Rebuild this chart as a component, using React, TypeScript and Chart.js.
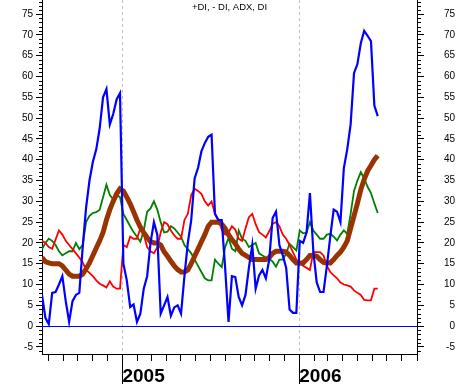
import React, { useEffect, useRef } from "react";
import { Chart, registerables } from "chart.js";

Chart.register(...registerables);

// ---- axis / calendar settings ----
const FIRST_WEEK = "2004-07-19"; // date of first weekly observation
const AXIS_START = "2004-07-19";
const AXIS_END = "2006-09-01";
const YEAR_LABELS = ["2005", "2006"];
const Y_TICKS = [-5, 0, 5, 10, 15, 20, 25, 30, 35, 40, 45, 50, 55, 60, 65, 70, 75];
const Y_MIN = -6.7;
const Y_MAX = 78.4;
const TITLE = "+DI, - DI, ADX, DI";

// ---- weekly series ----
const di = [
  7.5, 2, 0.5, 8, 8.2, 10, 12, 6, 1, 6,
  7.5, 8, 19, 28.5, 35, 39.5, 42.5, 47.5, 55, 57,
  48.5, 51, 54.5, 56, 15, 11, 4.6, 5.2, 1, 3,
  9, 12, 20, 25, 22, 3, 5, 7, 2.5, 4.5,
  5, 3, 12, 20, 25.5, 35.5, 38, 42, 44, 45.5,
  46, 27, 25.5, 25.5, 14, 1, 12, 11.8, 7, 5,
  7.5, 14, 19.5, 9, 12.2, 13.5, 11.5, 16, 26, 27.5,
  19.5, 17, 14, 4, 3.2, 3.2, 20.5, 20, 22.5, 32,
  18, 10.5, 8.2, 8.2, 14.5, 21.5, 28, 27.5, 25, 38,
  42.5, 48.5, 60.8, 63, 68, 71, 69.8, 68.5, 53, 50.5,
];

const adx = [
  16.5, 15.5, 15.2, 15, 15, 15, 14.5, 13.5, 12.5, 12,
  12, 12, 12.5, 13.8, 15.2, 17, 18.8, 20.5, 22.5, 25.5,
  28, 30, 31.8, 33, 32.5, 31, 29.4, 27.5, 25.5, 23.8,
  22.5, 21.3, 20.3, 20, 20, 19.5, 17.9, 16.8, 15.6, 14.5,
  13.6, 13, 13, 13.5, 15, 16.8, 18.5, 20.3, 22, 24,
  25, 25, 25, 24.5, 23.5, 22, 20.8, 19.8, 18.5, 17.5,
  17, 16.5, 16, 16, 16, 16, 16, 16.5, 17.5, 18,
  18, 18, 17.8, 17, 16, 15.2, 15.2, 15.2, 16, 17,
  17, 16.8, 16, 15.3, 15.2, 15.2, 16, 17, 17.8, 19,
  20.5, 23.5, 26.5, 29.5, 32.8, 35.3, 37.3, 38.6, 40, 41,
];

const diMinus = [
  20.5, 20, 19, 18.6, 20.8, 23, 22, 20.5, 19.5, 18.5,
  17.5, 16.5, 15.3, 13.5, 12.8, 12, 11, 10.2, 9.8, 9.3,
  10.8, 9.5, 9, 9, 19.5, 19, 21.5, 21, 21, 23.5,
  22, 19, 18, 17.5, 19, 22.5, 25, 24.5, 23, 21.8,
  21, 21, 25.5, 27, 31.5, 33, 32.5, 31.8, 30, 29,
  30, 27, 25.5, 23.2, 22, 22.5, 24, 23.2, 21, 20.5,
  23.5, 26.2, 27, 24.5, 22.6, 22, 21.3, 22.8, 24.6, 25,
  24, 22, 21, 19.5, 17.8, 16, 15, 14.5, 14, 13.5,
  17.8, 17.8, 17.8, 17, 14.5, 13, 12.2, 11.5, 10.5, 10,
  9.8, 9.5, 8.6, 8, 7.5, 6.3, 6.2, 6.2, 9, 9,
];

const diPlus = [
  18.5, 20, 21, 20.5, 19.5, 18, 17, 17.5, 18, 18,
  20, 18.5, 19.5, 25, 26.5, 27.2, 27.4, 28, 31, 34,
  31.5, 30.5, 31.5, 31, 27, 25.5, 24, 22.6, 21.5, 20.3,
  23, 27.5, 28.3, 30, 28, 25, 22.5, 22.7, 24, 23.5,
  22.5, 21.5, 19.5, 18.5, 17.5, 16, 14.5, 13, 11.5, 11,
  11, 16, 15, 14.2, 19, 21.2, 18.6, 18, 23, 21,
  20.5, 19, 19.5, 20, 17.5, 17, 16.5, 16.2, 15.5, 14.3,
  16, 16, 17.5, 19.8, 19, 18.2, 23, 22.3, 22.5, 25,
  23, 22, 21, 21, 22, 22.2, 21.5, 20.6, 22, 23,
  22.2, 27, 32.5, 35, 37, 35.5, 33.5, 32, 29.5, 27.2,
];

// ---- helpers ----
const BASE = Date.UTC(2005, 0, 1);
const dayOf = (s: string) => (Date.parse(s) - BASE) / 86400000;
const X_MIN = dayOf(AXIS_START);
const X_MAX = dayOf(AXIS_END);
const firstDay = dayOf(FIRST_WEEK);
const weekDays = di.map((_, i) => firstDay + 7 * i);

const monthTicks: number[] = [];
for (let yr = 2004; yr <= 2006; yr++) {
  for (let m = 0; m < 12; m++) {
    const d = (Date.UTC(yr, m, 1) - BASE) / 86400000;
    if (d >= X_MIN && d <= X_MAX) monthTicks.push(d);
  }
}
const yearByDay = new Map<number, string>();
YEAR_LABELS.forEach((y) => yearByDay.set(dayOf(`${y}-01-01`), y));

const toPts = (arr: number[]) => arr.map((v, i) => ({ x: weekDays[i], y: v }));

const FONT = "'Liberation Sans', Arial, sans-serif";

const decor = {
  id: "decor",
  beforeDatasetsDraw(chart: any) {
    const { ctx, chartArea, scales } = chart;
    const xs = scales.x;
    const ys = scales.y;
    ctx.save();
    ctx.strokeStyle = "#c0c0c0";
    ctx.lineWidth = 1;
    ctx.setLineDash([3, 3]);
    YEAR_LABELS.forEach((y) => {
      const px = Math.round(xs.getPixelForValue(dayOf(`${y}-01-01`))) + 0.5;
      ctx.beginPath();
      ctx.moveTo(px, chartArea.top);
      ctx.lineTo(px, chartArea.bottom);
      ctx.stroke();
    });
    ctx.setLineDash([]);
    const zy = Math.round(ys.getPixelForValue(0)) + 0.5;
    ctx.strokeStyle = "#0000ff";
    ctx.lineWidth = 1.2;
    ctx.beginPath();
    ctx.moveTo(chartArea.left, zy);
    ctx.lineTo(chartArea.right, zy);
    ctx.stroke();
    ctx.restore();
  },
  afterDraw(chart: any) {
    const { ctx, chartArea, scales } = chart;
    const xs = scales.x;
    const ys = scales.y;
    ctx.save();
    ctx.strokeStyle = "#000";
    ctx.lineWidth = 1;
    // minor ticks every 1 unit
    for (let v = Math.ceil(Y_MIN); v <= Math.floor(Y_MAX); v++) {
      if (v % 5 === 0) continue;
      const py = Math.round(ys.getPixelForValue(v)) + 0.5;
      ctx.beginPath();
      ctx.moveTo(chartArea.left - 3, py);
      ctx.lineTo(chartArea.left, py);
      ctx.moveTo(chartArea.right, py);
      ctx.lineTo(chartArea.right + 4, py);
      ctx.stroke();
    }
    // long year ticks
    YEAR_LABELS.forEach((y) => {
      const px = Math.round(xs.getPixelForValue(dayOf(`${y}-01-01`))) + 0.5;
      ctx.beginPath();
      ctx.moveTo(px, chartArea.bottom);
      ctx.lineTo(px, chart.height);
      ctx.stroke();
    });
    // title
    ctx.fillStyle = "#000";
    ctx.font = `9.5px ${FONT}`;
    ctx.textAlign = "center";
    ctx.textBaseline = "top";
    ctx.fillText(TITLE, (chartArea.left + chartArea.right) / 2, 3);
    ctx.restore();
  },
};

function yAxis(position: "left" | "right", width: number) {
  return {
    type: "linear" as const,
    position,
    min: Y_MIN,
    max: Y_MAX,
    afterBuildTicks: (s: any) => {
      s.ticks = Y_TICKS.map((v) => ({ value: v }));
    },
    afterFit: (s: any) => {
      s.width = width;
      s.paddingTop = 0;
      s.paddingBottom = 0;
    },
    grid: { drawOnChartArea: false, drawTicks: true, tickLength: position === "left" ? 6 : 7, color: "#000" },
    border: { display: true, color: "#000", width: 1 },
    ticks: {
      padding: 3,
      color: "#000",
      crossAlign: position === "left" ? ("near" as const) : ("far" as const),
      font: { family: FONT, size: 10 },
    },
  };
}

export default function App() {
  const ref = useRef<HTMLCanvasElement | null>(null);
  useEffect(() => {
    document.body.style.margin = "0";
    const canvas = ref.current;
    if (!canvas) return;
    const chart = new Chart(canvas, {
      type: "line",
      data: {
        datasets: [
          { label: "DI", data: toPts(di), borderColor: "#0000ff", borderWidth: 2.2, pointRadius: 0, tension: 0, fill: false },
          { label: "ADX", data: toPts(adx), borderColor: "#993300", borderWidth: 5, pointRadius: 0, tension: 0, fill: false },
          { label: "-DI", data: toPts(diMinus), borderColor: "#ff0000", borderWidth: 1.8, pointRadius: 0, tension: 0, fill: false },
          { label: "+DI", data: toPts(diPlus), borderColor: "#008000", borderWidth: 1.8, pointRadius: 0, tension: 0, fill: false },
        ],
      },
      options: {
        animation: false,
        responsive: false,
        devicePixelRatio: 1,
        parsing: false as any,
        layout: { padding: { left: 0, right: 2, top: 0, bottom: 0 } },
        plugins: { legend: { display: false }, tooltip: { enabled: false }, title: { display: false } },
        scales: {
          x: {
            type: "linear",
            min: X_MIN,
            max: X_MAX,
            afterBuildTicks: (s: any) => {
              s.ticks = monthTicks.map((v) => ({ value: v }));
            },
            afterFit: (s: any) => {
              s.height = 30;
              s.paddingLeft = 0;
              s.paddingRight = 0;
            },
            grid: { drawOnChartArea: false, drawTicks: true, tickLength: 7, color: "#000" },
            border: { display: true, color: "#000", width: 1 },
            ticks: {
              autoSkip: false,
              maxRotation: 0,
              minRotation: 0,
              align: "start",
              padding: 4,
              color: "#000",
              font: { family: FONT, size: 19, weight: "bold" },
              callback: (v: any) => yearByDay.get(Number(v)) ?? "",
            },
          },
          y: yAxis("left", 42),
          y2: yAxis("right", 38),
        },
      },
      plugins: [decor],
    } as any);
    return () => chart.destroy();
  }, []);
  return (
    <div style={{ width: 457, height: 384 }}>
      <canvas ref={ref} width={457} height={384} style={{ display: "block" }} />
    </div>
  );
}
